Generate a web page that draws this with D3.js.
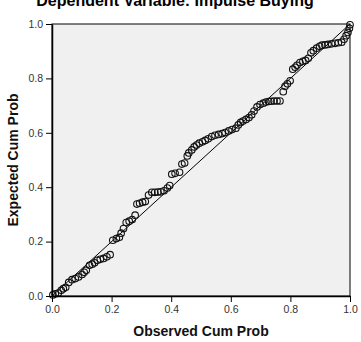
<!DOCTYPE html>
<html>
<head>
<meta charset="utf-8">
<script src="https://cdn.jsdelivr.net/npm/d3@7"></script>
<style>
  body { margin: 0; background: #fff; }
  svg text { font-family: "Liberation Sans", Arial, sans-serif; }
</style>
</head>
<body>
<svg id="chart"></svg>
<script>
// P-P plot data
const title = "Dependent Variable: Impulse Buying";
const xLabel = "Observed Cum Prob";
const yLabel = "Expected Cum Prob";
const tickValues = [0, 0.2, 0.4, 0.6, 0.8, 1.0];

const observed = [
  0.003, 0.011, 0.021, 0.031, 0.038, 0.046, 0.056, 0.067, 0.078, 0.089,
  0.101, 0.108, 0.115, 0.126, 0.135, 0.143, 0.152, 0.162, 0.173, 0.184,
  0.195, 0.204, 0.216, 0.226, 0.232, 0.240, 0.249, 0.259, 0.269, 0.279,
  0.285, 0.294, 0.304, 0.313, 0.324, 0.335, 0.345, 0.355, 0.365, 0.376,
  0.387, 0.395, 0.402, 0.413, 0.428, 0.436, 0.445, 0.454, 0.459, 0.469,
  0.477, 0.485, 0.494, 0.505, 0.514, 0.524, 0.536, 0.547, 0.559, 0.571,
  0.581, 0.593, 0.604, 0.617, 0.625, 0.633, 0.641, 0.651, 0.661, 0.670,
  0.678, 0.688, 0.698, 0.709, 0.718, 0.727, 0.735, 0.745, 0.755, 0.765,
  0.776, 0.782, 0.790, 0.799, 0.808, 0.816, 0.822, 0.832, 0.842, 0.851,
  0.860, 0.869, 0.877, 0.888, 0.898, 0.906, 0.916, 0.926, 0.938, 0.950,
  0.961, 0.972, 0.980, 0.987, 0.993, 0.998, 1.000
];
const expected = [
  0.004, 0.008, 0.011, 0.021, 0.027, 0.032, 0.050, 0.060, 0.064, 0.070,
  0.079, 0.087, 0.095, 0.113, 0.117, 0.122, 0.131, 0.135, 0.138, 0.144,
  0.152, 0.205, 0.211, 0.216, 0.231, 0.248, 0.270, 0.275, 0.281, 0.297,
  0.338, 0.341, 0.345, 0.347, 0.371, 0.381, 0.381, 0.382, 0.383, 0.387,
  0.397, 0.406, 0.448, 0.451, 0.455, 0.485, 0.489, 0.515, 0.526, 0.537,
  0.548, 0.555, 0.562, 0.567, 0.572, 0.578, 0.586, 0.591, 0.594, 0.597,
  0.601, 0.607, 0.612, 0.617, 0.629, 0.638, 0.643, 0.649, 0.656, 0.666,
  0.680, 0.695, 0.704, 0.709, 0.713, 0.715, 0.716, 0.717, 0.717, 0.717,
  0.751, 0.771, 0.780, 0.791, 0.834, 0.841, 0.848, 0.858, 0.863, 0.866,
  0.874, 0.894, 0.902, 0.911, 0.918, 0.922, 0.923, 0.925, 0.927, 0.929,
  0.931, 0.933, 0.944, 0.957, 0.969, 0.984, 0.997
];

const width = 361, height = 342;
const marginLeft = 52, marginRight = 11, marginTop = 24, marginBottom = 46;

const points = observed.map((o, i) => ({ o, e: expected[i] }));

const x = d3.scaleLinear().domain([0, 1]).range([marginLeft, width - marginRight]);
const y = d3.scaleLinear().domain([0, 1]).range([height - marginBottom, marginTop]);

const svg = d3.select("#chart")
    .attr("width", width)
    .attr("height", height)
    .attr("viewBox", [0, 0, width, height]);

// plot area
svg.append("rect")
    .attr("x", x(0)).attr("y", y(1))
    .attr("width", x(1) - x(0)).attr("height", y(0) - y(1))
    .attr("fill", "#f0f0f0")
    .attr("stroke", "#000")
    .attr("stroke-width", 1);

// reference diagonal
svg.append("line")
    .attr("x1", x(0)).attr("y1", y(0))
    .attr("x2", x(1)).attr("y2", y(1))
    .attr("stroke", "#000")
    .attr("stroke-width", 1);

// points
svg.append("g")
    .attr("fill", "none")
    .attr("stroke", "#111")
    .attr("stroke-width", 1.1)
  .selectAll("circle")
  .data(points)
  .join("circle")
    .attr("cx", d => x(d.o))
    .attr("cy", d => y(d.e))
    .attr("r", 3.3);

// axes
const fmt = d3.format(".1f");
svg.append("g")
    .attr("transform", `translate(0,${y(0)})`)
    .call(d3.axisBottom(x).tickValues(tickValues).tickFormat(fmt).tickSize(6).tickPadding(4).tickSizeOuter(0))
    .call(g => g.select(".domain").attr("stroke-width", 1.5))
    .call(g => g.selectAll("text").attr("font-size", 10.5).attr("fill", "#333"));

svg.append("g")
    .attr("transform", `translate(${x(0)},0)`)
    .call(d3.axisLeft(y).tickValues(tickValues).tickFormat(fmt).tickSize(6).tickPadding(3).tickSizeOuter(0))
    .call(g => g.select(".domain").attr("stroke-width", 1.5))
    .call(g => g.selectAll("text").attr("font-size", 10.5).attr("fill", "#333"));

// titles (the chart title sits partly above the top edge, as in the source)
svg.append("text")
    .attr("x", 175)
    .attr("y", 6)
    .attr("text-anchor", "middle")
    .attr("font-weight", "bold")
    .attr("font-size", 16)
    .text(title);

svg.append("text")
    .attr("x", (x(0) + x(1)) / 2)
    .attr("y", 336)
    .attr("text-anchor", "middle")
    .attr("font-weight", "bold")
    .attr("font-size", 14)
    .attr("fill", "#111")
    .text(xLabel);

svg.append("text")
    .attr("transform", `translate(18,${(y(0) + y(1)) / 2}) rotate(-90)`)
    .attr("text-anchor", "middle")
    .attr("font-weight", "bold")
    .attr("font-size", 14)
    .attr("fill", "#111")
    .text(yLabel);
</script>
</body>
</html>
